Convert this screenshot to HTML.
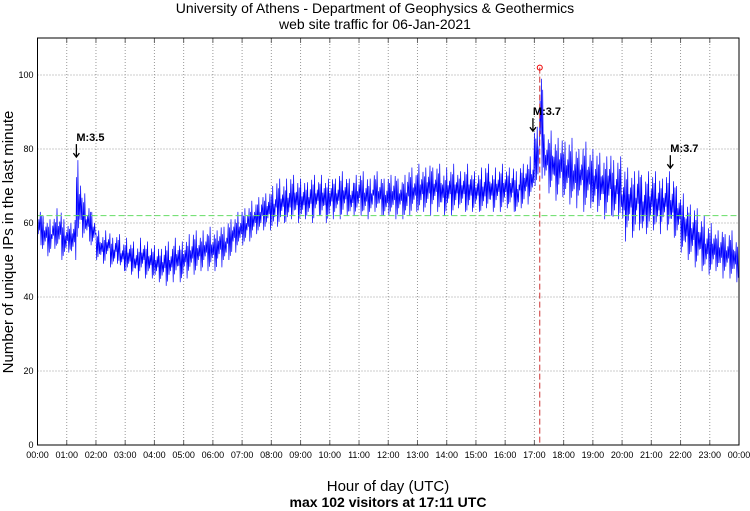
<!DOCTYPE html>
<html><head><meta charset="utf-8"><style>
body{margin:0;background:#fff;}
svg{display:block;font-family:"Liberation Sans",sans-serif;}
</style></head><body>
<svg id="c" width="750" height="511">
<text x="375" y="13" text-anchor="middle" font-size="14">University of Athens - Department of Geophysics &amp; Geothermics</text>
<text x="375" y="29" text-anchor="middle" font-size="14">web site traffic for 06-Jan-2021</text>
<text transform="translate(13,242) rotate(-90)" text-anchor="middle" font-size="15">Number of unique IPs in the last minute</text>
<text x="388" y="491" text-anchor="middle" font-size="15">Hour of day (UTC)</text>
<text x="388" y="507" text-anchor="middle" font-size="14" font-weight="bold">max 102 visitors at 17:11 UTC</text>
<g id="grid"></g><g id="series"></g><g id="ann"></g>
<rect x="37.5" y="38" width="701.5" height="407" fill="none" stroke="#000" stroke-width="1"/>
</svg>
<script>
const yTicks=[0,20,40,60,80,100];
const xTickLabels=["00:00","01:00","02:00","03:00","04:00","05:00","06:00","07:00","08:00","09:00","10:00","11:00","12:00","13:00","14:00","15:00","16:00","17:00","18:00","19:00","20:00","21:00","22:00","23:00","00:00"];
const hiVals=[64,62,61,62,64,61, 60,62,77,68,65,63, 58,57,58,56,57,55, 56,55,54,56,55,54, 54,53,55,54,56,55, 56,57,58,57,58,59, 58,60,59,61,62,63, 64,65,66,67,68,69, 70,72,71,72,73,72, 72,71,73,72,73,72, 73,72,74,73,72,73, 74,73,72,74,73,72, 73,74,72,73,75,74, 76,75,77,75,76,74, 75,76,74,75,76,74, 74,75,76,74,75,76, 75,76,74,76,77,78, 86,102,84,85,83,84, 82,83,81,80,82,80, 80,79,78,80,77,78, 76,75,74,76,73,74, 74,73,72,74,73,70, 68,66,65,64,62,60, 60,58,59,57,58,56];
const loVals=[54,52,51,53,52,50, 52,50,54,56,55,53, 50,49,50,48,49,47, 46,46,45,46,45,45, 44,44,43,44,45,44, 45,46,46,47,48,47, 47,48,49,50,52,53, 54,55,56,57,58,58, 58,59,60,59,61,60, 60,61,60,62,61,60, 61,62,61,62,61,62, 62,61,62,63,62,61, 62,61,62,61,62,63, 62,63,62,64,63,62, 63,62,64,63,62,63, 63,62,64,63,64,63, 64,63,62,64,65,66, 70,72,70,68,66,67, 66,65,64,66,63,64, 62,63,61,62,60,61, 55,57,56,58,55,57, 58,57,59,58,56,55, 52,50,49,48,47,46, 46,47,45,46,45,44];
const meanVal=62;
const maxVal=102, maxHour=17+11/60;
const annotations=[{label:"M:3.5",hour:1.33,val:77},{label:"M:3.7",hour:16.95,val:84},{label:"M:3.7",hour:21.65,val:74}];

const NS="http://www.w3.org/2000/svg";
const X0=37.5,X1=739,Y0=445,Y1=75;
const xs=h=>X0+h*(X1-X0)/24;
const ys=v=>Y0-v*(Y0-Y1)/100;
function mk(t,a,p){const e=document.createElementNS(NS,t);for(const k in a)e.setAttribute(k,a[k]);p.appendChild(e);return e;}
const grid=document.getElementById('grid'),ser=document.getElementById('series'),ann=document.getElementById('ann');
yTicks.forEach(v=>{
  if(v>0){const l=mk('line',{x1:X0,x2:X1,y1:ys(v),y2:ys(v),stroke:'#999','stroke-dasharray':'1,2'},grid);
  
  }
  const t=mk('text',{x:X0-4,y:ys(v)+3,'text-anchor':'end','font-size':9},grid);t.textContent=v;
  
  
});
xTickLabels.forEach((s,i)=>{
  const x=xs(i);
  if(i>0&&i<24){const l=mk('line',{x1:x,x2:x,y1:38,y2:Y0,stroke:'#999','stroke-dasharray':'1,2'},grid);
  
  
  mk('line',{x1:x,x2:x,y1:38,y2:43,stroke:'#666'},grid);mk('line',{x1:x,x2:x,y1:Y0-5,y2:Y0,stroke:'#666'},grid);}
  const t=mk('text',{x:x,y:458,'text-anchor':'middle','font-size':9},grid);t.textContent=s;
  
  
});
const pat=[0.6,0.1,0.9,0.3,1.0,0.0,0.7,0.2,0.8,0.4];
let pts=[];const n=hiVals.length;const per=7;
for(let i=0;i<n;i++){for(let j=0;j<per;j++){const h=(i+j/per)/6;const v=loVals[i]+pat[(j*3+i)%10]*(hiVals[i]-loVals[i]);pts.push(xs(h).toFixed(1)+','+ys(v).toFixed(1));}}
const pl=mk('polyline',{points:pts.join(' '),fill:'none',stroke:'#00f','stroke-width':0.7},ser);


const ml=mk('line',{x1:X0,x2:X1,y1:ys(meanVal),y2:ys(meanVal),stroke:'#66dd66','stroke-dasharray':'6,3'},ser);


const rl=mk('line',{x1:xs(maxHour),x2:xs(maxHour),y1:ys(maxVal),y2:Y0,stroke:'#c33','stroke-dasharray':'6,3'},ser);


const rc=mk('circle',{cx:xs(maxHour),cy:ys(maxVal),r:2.5,fill:'none',stroke:'#e00'},ser);


annotations.forEach(a=>{
  const x=xs(a.hour),y=ys(a.val)-3;
  const g=mk('g',{},ann);
  
  
  mk('line',{x1:x,x2:x,y1:y-13,y2:y,stroke:'#000','stroke-width':1.3},g);
  mk('path',{d:`M${x-3},${y-4} L${x},${y} L${x+3},${y-4}`,fill:'none',stroke:'#000','stroke-width':1.3},g);
  const t=mk('text',{x:x,y:y-16,'font-size':11,'font-weight':'bold'},g);t.textContent=a.label;
});
</script>
</body></html>
